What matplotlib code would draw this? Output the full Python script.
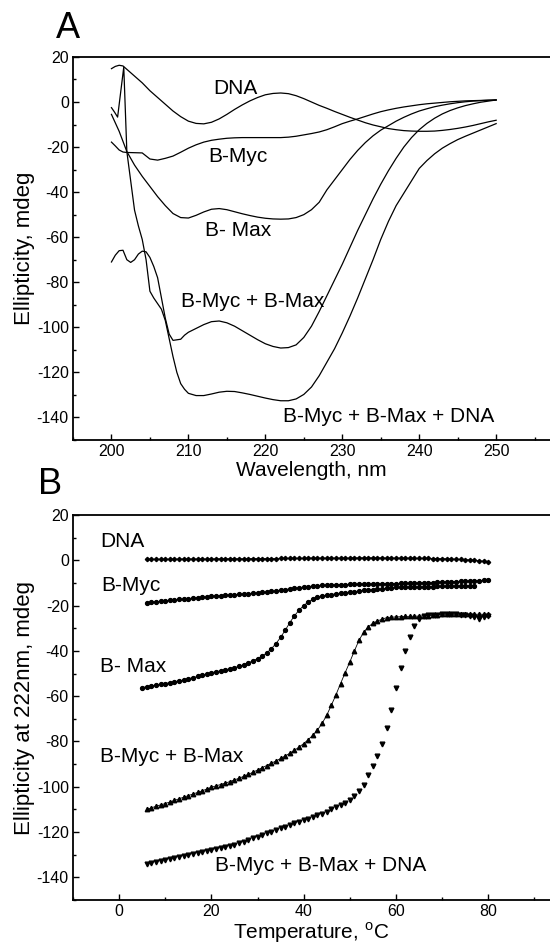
import matplotlib
matplotlib.use("Agg")
import matplotlib.pyplot as plt
from matplotlib.ticker import MultipleLocator

plt.rcParams['font.family'] = ['Liberation Sans', 'DejaVu Sans']
plt.rcParams['mathtext.fontset'] = 'custom'
plt.rcParams['mathtext.rm'] = 'Liberation Sans'
plt.rcParams['axes.unicode_minus'] = False

# ---- panel A: CD spectra (wavelength nm, ellipticity mdeg) ----
dna_nm = [200, 200.5, 201, 201.5, 202] + list(range(203, 251))
dna_cd = [14.8, 15.8, 16.3, 16.0, 14.5,
          11.5, 8.5, 5.0, 2.0, -1.0, -4.0, -6.5, -8.5, -9.5, -9.7,
          -9.0, -7.5, -5.5, -3.3, -1.3, 0.5, 2.0, 3.2, 3.8, 4.0,
          3.7, 2.8, 1.5, 0.0, -1.5, -2.8, -4.2, -5.5, -6.8, -8.0,
          -9.2, -10.2, -11.0, -11.8, -12.3, -12.7, -12.9, -13.0, -13.0, -12.9,
          -12.6, -12.2, -11.7, -11.1, -10.4, -9.6, -8.8, -8.1]

myc_nm = [200, 200.5, 201, 201.5, 202] + list(range(203, 251))
myc_cd = [-17.8, -19.5, -21.3, -22.2, -22.4,
          -22.5, -22.6, -25.3, -25.8, -25.0, -24.0, -22.3, -20.5, -19.0, -17.8,
          -17.0, -16.5, -16.1, -15.9, -15.8, -15.8, -15.8, -15.8, -15.8, -15.8,
          -15.6, -15.2, -14.6, -14.0, -13.3, -12.3, -11.0, -9.6, -8.5, -7.5,
          -6.4, -5.3, -4.3, -3.5, -2.8, -2.2, -1.7, -1.2, -0.8, -0.5,
          -0.2, 0.1, 0.3, 0.5, 0.6, 0.7, 0.8, 0.9]

max_nm = [200, 201, 202] + list(range(203, 251))
max_cd = [-5.5, -13.0, -22.0,
          -28.0, -33.0, -37.5, -42.0, -46.0, -49.5, -51.3, -51.5, -50.3, -48.8,
          -47.6, -47.3, -47.8, -48.7, -49.6, -50.4, -51.1, -51.6, -51.9, -52.0,
          -51.9, -51.3, -50.0, -47.8, -44.5, -39.0, -34.5, -30.0, -25.5, -21.5,
          -18.0, -15.0, -12.5, -10.5, -8.5, -6.8, -5.3, -4.0, -3.0, -2.1,
          -1.4, -0.8, -0.3, 0.1, 0.4, 0.6, 0.8, 0.9]

mycmax_nm = [200, 200.5, 201, 201.5, 202, 202.5, 203, 203.5, 204, 204.5,
             205, 205.5, 206, 206.5, 207, 207.5, 208, 209, 209.5, 210] + list(range(211, 251))
mycmax_cd = [-71.0, -68.0, -66.0, -65.8, -70.0, -71.2, -70.0, -67.5, -66.2, -66.5,
             -69.0, -73.0, -78.0, -87.0, -96.0, -103.0, -105.8, -105.3, -103.5, -102.2,
             -100.5, -98.8, -97.5, -97.2, -98.0, -99.5, -101.5, -103.5, -105.5, -107.3,
             -108.5, -109.2, -109.0, -107.8, -104.5, -99.5, -93.0, -86.0, -79.0, -72.0,
             -64.5, -57.0, -50.0, -43.0, -36.5, -30.5, -25.0, -20.0, -15.8, -12.3,
             -9.5, -7.2, -5.3, -3.8, -2.6, -1.6, -0.8, -0.1, 0.4, 0.9]

all_nm = [200, 200.4, 200.8, 201.6, 202, 202.5, 203, 203.5, 204, 204.5,
          205, 205.5, 206, 206.5, 207, 207.5, 208, 208.5, 209, 209.5, 210] + list(range(211, 251))
all_cd = [-2.5, -4.5, -6.7, 15.5, -22.0, -35.0, -48.0, -55.0, -61.0, -70.0,
          -84.0, -87.0, -89.5, -92.0, -97.0, -105.0, -113.0, -120.0, -125.0, -127.5, -129.3,
          -130.3, -130.3, -129.6, -128.8, -128.4, -128.5, -129.1, -129.8, -130.6, -131.4,
          -132.1, -132.6, -132.6, -131.8, -129.8, -126.5, -121.5, -115.5, -109.5, -102.5,
          -95.0, -87.0, -78.5, -70.0, -61.0, -53.0, -46.0, -40.5, -35.0, -29.5,
          -26.0, -23.0, -20.5, -18.5, -16.7, -15.2, -13.8, -12.4, -11.0, -9.6]

# ---- panel B: thermal melts at 222 nm ----
temp = list(range(6, 81))
temp_max = list(range(5, 78))

dna_t = [0.5, 0.5, 0.5, 0.5, 0.5, 0.5, 0.5, 0.6, 0.6, 0.6,
         0.6, 0.6, 0.6, 0.6, 0.6, 0.7, 0.7, 0.7, 0.7, 0.7,
         0.7, 0.7, 0.7, 0.8, 0.8, 0.8, 0.8, 0.8, 0.8, 0.9,
         0.9, 0.9, 0.9, 0.9, 0.9, 1.0, 1.0, 1.0, 1.0, 1.0,
         1.0, 1.0, 1.0, 1.0, 1.0, 1.1, 1.1, 1.1, 1.1, 1.1,
         1.1, 1.1, 1.0, 1.0, 1.0, 1.0, 1.0, 1.0, 0.9, 0.9,
         0.9, 0.9, 0.8, 0.8, 0.7, 0.7, 0.6, 0.5, 0.4, 0.3,
         0.2, 0.0, -0.2, -0.4, -0.6]

myc_t = [-18.7, -18.5, -18.3, -18.1, -17.9, -17.7, -17.5, -17.3, -17.1, -16.9,
         -16.7, -16.5, -16.3, -16.1, -15.9, -15.7, -15.6, -15.4, -15.3, -15.1,
         -15.0, -14.9, -14.7, -14.6, -14.4, -14.2, -14.0, -13.7, -13.5, -13.2,
         -12.9, -12.6, -12.4, -12.1, -11.8, -11.6, -11.4, -11.2, -11.1, -11.0,
         -10.9, -10.8, -10.7, -10.7, -10.6, -10.6, -10.5, -10.5, -10.5, -10.4,
         -10.4, -10.4, -10.3, -10.3, -10.3, -10.2, -10.2, -10.1, -10.0, -10.0,
         -9.9, -9.8, -9.8, -9.7, -9.6, -9.5, -9.4, -9.4, -9.3, -9.2,
         -9.1, -9.0, -9.0, -8.9, -8.8]

max_t = [-56.2, -55.8, -55.5, -55.1, -54.8, -54.4, -54.0, -53.6, -53.2, -52.8,
         -52.3, -51.8, -51.3, -50.8, -50.2, -49.6, -49.2, -48.8, -48.3, -47.9,
         -47.4, -46.8, -46.1, -45.3, -44.4, -43.4, -42.3, -40.9, -39.0, -36.8,
         -34.0, -30.9, -27.5, -24.5, -22.0, -20.0, -18.4, -17.2, -16.3, -15.7,
         -15.4, -15.1, -14.8, -14.5, -14.3, -14.0, -13.8, -13.6, -13.3, -13.1,
         -12.9, -12.8, -12.6, -12.4, -12.2, -12.0, -11.9, -11.9, -11.8, -11.8,
         -11.7, -11.7, -11.6, -11.6, -11.5, -11.5, -11.5, -11.4, -11.4, -11.3,
         -11.3, -11.2, -11.2]

mycmax_t = [-110.0, -109.3, -108.6, -108.0, -107.4, -106.7, -106.0, -105.3, -104.6, -103.9,
            -103.2, -102.5, -101.8, -101.0, -100.2, -99.6, -99.0, -98.4, -97.7, -97.0,
            -96.2, -95.4, -94.5, -93.6, -92.6, -91.6, -90.6, -89.6, -88.6, -87.5,
            -86.4, -85.2, -83.9, -82.5, -80.9, -79.2, -77.2, -74.9, -72.0, -68.4,
            -64.0, -59.4, -54.4, -49.6, -44.9, -40.0, -35.3, -31.8, -29.4, -27.8,
            -26.8, -26.0, -25.3, -25.1, -25.0, -24.9, -24.8, -24.7, -24.7, -24.6,
            -24.5, -24.4, -24.3, -24.1, -23.8, -23.8, -23.8, -23.8, -23.8, -23.8,
            -23.8, -23.8, -23.8, -23.8, -23.8]

all_t = [-134.3, -133.8, -133.4, -132.9, -132.4, -131.9, -131.4, -130.9, -130.5, -130.0,
         -129.6, -129.2, -128.8, -128.4, -128.0, -127.6, -127.1, -126.6, -126.2, -125.7,
         -125.0, -124.3, -123.6, -122.8, -122.0, -121.3, -120.6, -119.9, -119.1, -118.4,
         -117.7, -117.0, -116.2, -115.5, -114.7, -114.0, -113.3, -112.5, -111.8, -111.0,
         -110.0, -109.1, -108.0, -107.0, -105.9, -104.2, -102.0, -99.3, -94.9, -91.0,
         -86.5, -81.0, -74.0, -66.0, -56.5, -47.5, -40.0, -34.0, -29.0, -25.7,
         -24.5, -24.2, -24.0, -24.0, -23.8, -23.8, -23.8, -23.9, -24.0, -24.0,
         -24.5, -25.0, -26.0, -25.0, -24.5]


def style_axes(ax):
    ax.spines['right'].set_visible(False)
    for s in ('left', 'bottom', 'top'):
        ax.spines[s].set_linewidth(1.3)
    ax.tick_params(which='both', direction='in', top=False, right=False, labelsize=11.5)
    ax.tick_params(which='major', length=4, width=1, pad=3)
    ax.tick_params(which='minor', length=2.5, width=1)
    ax.yaxis.set_major_locator(MultipleLocator(20))
    ax.yaxis.set_minor_locator(MultipleLocator(10))
    ax.set_ylim(-150, 20)


fig = plt.figure(figsize=(5.5, 9.49), dpi=100)

axA = fig.add_axes([0.1327, 0.5364, 0.8673, 0.4036])
lw = 0.9
axA.plot(dna_nm, dna_cd, 'k-', lw=lw)
axA.plot(myc_nm, myc_cd, 'k-', lw=lw)
axA.plot(max_nm, max_cd, 'k-', lw=lw)
axA.plot(mycmax_nm, mycmax_cd, 'k-', lw=lw)
axA.plot(all_nm, all_cd, 'k-', lw=lw)
style_axes(axA)
axA.set_xlim(195, 257)
axA.xaxis.set_major_locator(MultipleLocator(10))
axA.xaxis.set_minor_locator(MultipleLocator(5))
axA.set_xticks([200, 210, 220, 230, 240, 250])
axA.set_xlabel("Wavelength, nm", fontsize=15, labelpad=1)
axA.set_ylabel("Ellipticity, mdeg", fontsize=16, labelpad=1)
fs = 15
axA.text(216.1, 5.9, "DNA", fontsize=fs, ha='center', va='center')
axA.text(216.4, -24.4, "B-Myc", fontsize=fs, ha='center', va='center')
axA.text(216.4, -57, "B- Max", fontsize=fs, ha='center', va='center')
axA.text(218.3, -88.7, "B-Myc + B-Max", fontsize=fs, ha='center', va='center')
axA.text(236, -139.7, "B-Myc + B-Max + DNA", fontsize=fs, ha='center', va='center')
fig.text(68 / 550, 1 - 28 / 949, "A", fontsize=26, ha='center', va='center')

axB = fig.add_axes([0.1327, 0.0516, 0.8673, 0.4057])
ms = 2.8
axB.plot(temp, dna_t, 'k-', lw=0.6, marker='D', ms=2.2)
axB.plot(temp, myc_t, 'k-', lw=0.6, marker='o', ms=ms)
axB.plot(temp_max, max_t, 'k-', lw=0.6, marker='o', ms=ms)
axB.plot(temp, mycmax_t, 'k-', lw=0.6, marker='^', ms=ms + 0.4)
axB.plot(temp, all_t, 'k', ls='none', marker='v', ms=ms + 0.6)
style_axes(axB)
axB.set_xlim(-10, 93.4)
axB.xaxis.set_major_locator(MultipleLocator(20))
axB.xaxis.set_minor_locator(MultipleLocator(10))
axB.set_xlabel(r"Temperature, $^{\mathrm{o}}$C", fontsize=15, labelpad=1)
axB.set_ylabel("Ellipticity at 222nm, mdeg", fontsize=16, labelpad=1)
axB.text(-4.1, 8.1, "DNA", fontsize=fs, ha='left', va='center')
axB.text(-3.8, -11, "B-Myc", fontsize=fs, ha='left', va='center')
axB.text(-4.1, -46.8, "B- Max", fontsize=fs, ha='left', va='center')
axB.text(-4.1, -86.8, "B-Myc + B-Max", fontsize=fs, ha='left', va='center')
axB.text(20.8, -134.6, "B-Myc + B-Max + DNA", fontsize=fs, ha='left', va='center')
fig.text(50 / 550, 1 - 485 / 949, "B", fontsize=26, ha='center', va='center')

fig.savefig("out.png", dpi=100)
